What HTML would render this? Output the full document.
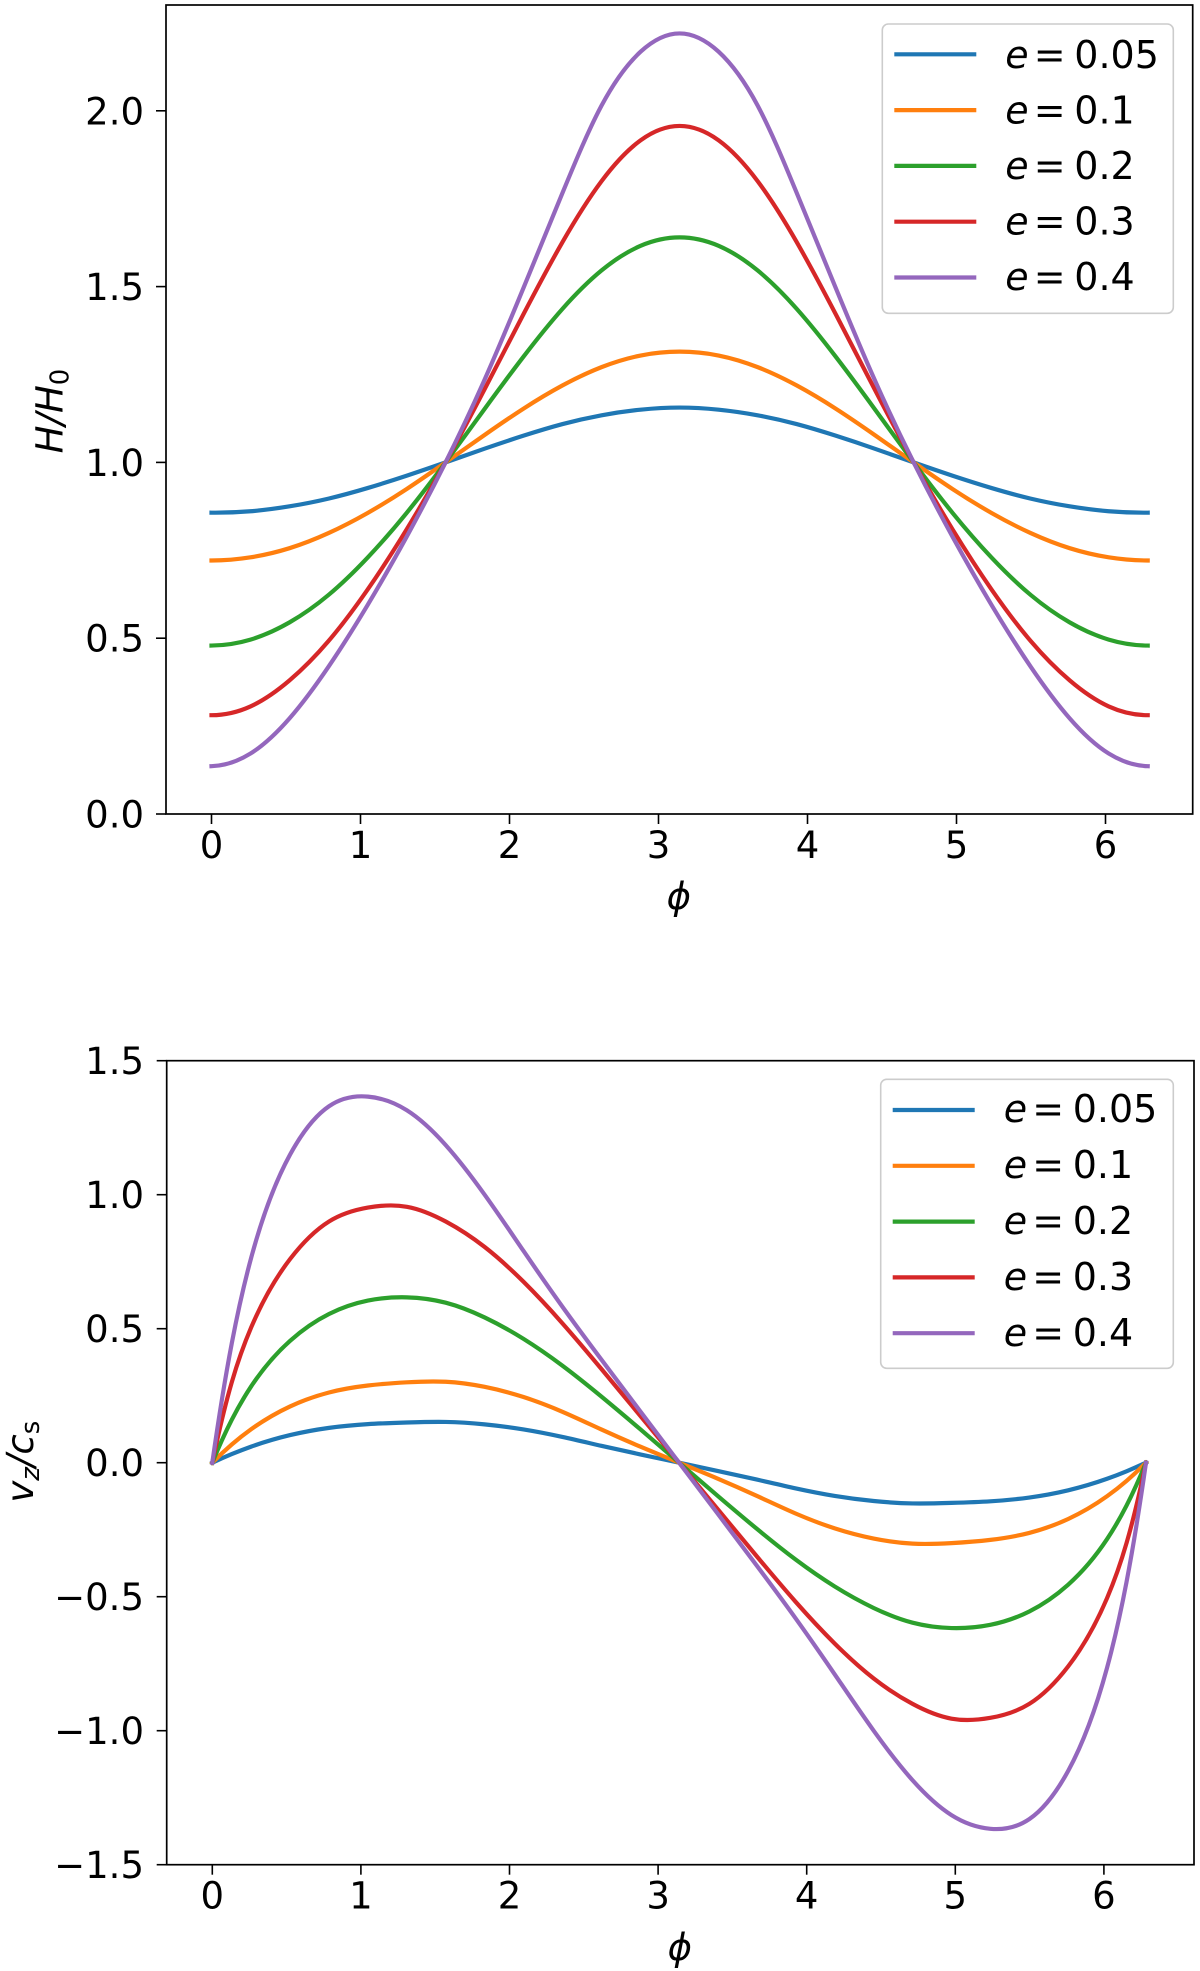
<!DOCTYPE html>
<html lang="en">
<head>
<meta charset="utf-8">
<title>Disc thickness and vertical velocity vs phase</title>
<style>
html,body{margin:0;padding:0;background:#fff;width:1200px;height:1971px;overflow:hidden}
svg{display:block}
text{font-family:"DejaVu Sans","Liberation Sans",sans-serif;font-size:37px;fill:#000}
</style>
</head>
<body>
<svg id="chart" xmlns="http://www.w3.org/2000/svg" width="1200" height="1971" viewBox="0 0 1200 1971"></svg>
<script>
const phiH = [0,0.2618,0.5236,0.7854,1.0472,1.309,1.5708,1.8326,2.0944,2.3562,2.618,2.8798,3.1416,3.4034,3.6652,3.927,4.1888,4.4506,4.7124,4.9742,5.236,5.4978,5.7596,6.0214,6.2832];
const hE005 = [0.857,0.861,0.875,0.897,0.927,0.962,1.000,1.039,1.076,1.109,1.134,1.150,1.156,1.150,1.134,1.109,1.076,1.039,1.000,0.962,0.927,0.897,0.875,0.861,0.857];
const hE01 = [0.721,0.730,0.756,0.799,0.856,0.924,1.000,1.078,1.153,1.219,1.271,1.304,1.315,1.304,1.271,1.219,1.153,1.078,1.000,0.924,0.856,0.799,0.756,0.730,0.721];
const hE02 = [0.479,0.496,0.545,0.623,0.729,0.856,1.000,1.152,1.301,1.437,1.546,1.616,1.640,1.616,1.546,1.437,1.301,1.152,1.000,0.856,0.729,0.623,0.545,0.496,0.479];
const hE03 = [0.281,0.306,0.380,0.492,0.638,0.809,1.000,1.208,1.422,1.627,1.800,1.916,1.957,1.916,1.800,1.627,1.422,1.208,1.000,0.809,0.638,0.492,0.380,0.306,0.281];
const hE04 = [0.136,0.172,0.272,0.419,0.594,0.788,1.000,1.235,1.497,1.767,2.015,2.168,2.220,2.168,2.015,1.767,1.497,1.235,1.000,0.788,0.594,0.419,0.272,0.172,0.136];

const phiV = [0,0.1309,0.2618,0.5236,0.7854,1.0472,1.309,1.5708,1.8326,2.0944,2.3562,2.618,2.8798,3.1416,3.4034,3.6652,3.927,4.1888,4.4506,4.7124,4.9742,5.236,5.4978,5.7596,6.0214,6.1523,6.2832];
const vE005 = [0,0.032,0.060,0.103,0.130,0.144,0.150,0.152,0.143,0.124,0.096,0.063,0.031,0,-0.031,-0.063,-0.096,-0.124,-0.143,-0.152,-0.150,-0.144,-0.130,-0.103,-0.060,-0.032,0];
const vE01 = [0,0.068,0.125,0.210,0.262,0.288,0.300,0.302,0.283,0.245,0.190,0.124,0.060,0,-0.060,-0.124,-0.190,-0.245,-0.283,-0.302,-0.300,-0.288,-0.262,-0.210,-0.125,-0.068,0];
const vE02 = [0,0.160,0.285,0.455,0.555,0.605,0.617,0.597,0.542,0.462,0.362,0.247,0.125,0,-0.125,-0.247,-0.362,-0.462,-0.542,-0.597,-0.617,-0.605,-0.555,-0.455,-0.285,-0.160,0];
const vE03 = [0,0.300,0.505,0.760,0.900,0.952,0.955,0.900,0.805,0.675,0.520,0.350,0.175,0,-0.175,-0.350,-0.520,-0.675,-0.805,-0.900,-0.955,-0.952,-0.900,-0.760,-0.505,-0.300,0];
const vE04 = [0,0.445,0.765,1.150,1.330,1.366,1.315,1.185,1.000,0.790,0.582,0.385,0.192,0,-0.192,-0.385,-0.582,-0.790,-1.000,-1.185,-1.315,-1.366,-1.330,-1.150,-0.765,-0.445,0];

const xTickValues = [0,1,2,3,4,5,6];
const hTickValues = [0,0.5,1,1.5,2];
const vTickValues = [-1.5,-1,-0.5,0,0.5,1,1.5];
const legendValues = ['0.05','0.1','0.2','0.3','0.4'];
const seriesColors = ['#1f77b4','#ff7f0e','#2ca02c','#d62728','#9467bd'];

const NS = 'http://www.w3.org/2000/svg';
const root = document.getElementById('chart');

function make(tag, parent, attrs) {
  const node = document.createElementNS(NS, tag);
  for (const k in attrs) node.setAttribute(k, attrs[k]);
  parent.appendChild(node);
  return node;
}

function xH(p) { return 211.5 + 149 * p; }
function yH(v) { return 814 - 351.6 * v; }
function xV(p) { return 212.3 + 148.6 * p; }
function yV(v) { return 1462.7 - 268 * v; }

function curvePath(xs, ys, fx, fy) {
  const px = xs.map(fx);
  const py = ys.map(fy);
  const n = px.length;
  const h = [];
  const dl = [];
  for (let i = 0; i < n - 1; i++) {
    h.push(px[i + 1] - px[i]);
    dl.push((py[i + 1] - py[i]) / h[i]);
  }
  const m = new Array(n).fill(0);
  m[0] = ((2 * h[0] + h[1]) * dl[0] - h[0] * dl[1]) / (h[0] + h[1]);
  m[n - 1] = ((2 * h[n - 2] + h[n - 3]) * dl[n - 2] - h[n - 2] * dl[n - 3]) / (h[n - 2] + h[n - 3]);
  const cp = new Array(n).fill(0);
  const dp = new Array(n).fill(0);
  dp[0] = m[0];
  for (let i = 1; i < n - 1; i++) {
    const a = h[i];
    const b = 2 * (h[i - 1] + h[i]);
    const c = h[i - 1];
    const r = 3 * (h[i] * dl[i - 1] + h[i - 1] * dl[i]);
    const den = b - a * cp[i - 1];
    cp[i] = c / den;
    dp[i] = (r - a * dp[i - 1]) / den;
  }
  for (let i = n - 2; i >= 1; i--) {
    m[i] = dp[i] - cp[i] * m[i + 1];
  }
  let d = 'M' + px[0].toFixed(2) + ' ' + py[0].toFixed(2);
  for (let i = 0; i < n - 1; i++) {
    const t = h[i] / 3;
    d += 'C' + (px[i] + t).toFixed(2) + ' ' + (py[i] + m[i] * t).toFixed(2) + ' ' +
      (px[i + 1] - t).toFixed(2) + ' ' + (py[i + 1] - m[i + 1] * t).toFixed(2) + ' ' +
      px[i + 1].toFixed(2) + ' ' + py[i + 1].toFixed(2);
  }
  return d;
}

function fmtY(v) { return v.toFixed(1).replace('-', '\u2212'); }

function drawPanel(prefix, box, xs, series, fx, fy, yTicks, xLabelBase, legendBox) {
  const g = make('g', root, {});
  
  

  series.forEach(function (vals, i) {
    const line = make('path', g, { d: curvePath(xs, vals, fx, fy), fill: 'none', stroke: seriesColors[i], 'stroke-width': 4.2, 'stroke-linecap': 'square', 'stroke-linejoin': 'round' });
    
    
  });

  const frame = make('rect', g, { x: box.l, y: box.t, width: box.r - box.l, height: box.b - box.t, fill: 'none', stroke: '#000', 'stroke-width': 1.7 });
  
  

  xTickValues.forEach(function (t) {
    const tick = make('line', g, { x1: fx(t), x2: fx(t), y1: box.b, y2: box.b + 10, stroke: '#000', 'stroke-width': 1.6 });
    
    
    const label = make('text', g, { x: fx(t), y: box.b + 44, 'text-anchor': 'middle' });
    label.textContent = String(t);
    
    
  });

  yTicks.forEach(function (t) {
    const tick = make('line', g, { x1: box.l - 10, x2: box.l, y1: fy(t), y2: fy(t), stroke: '#000', 'stroke-width': 1.6 });
    
    
    const label = make('text', g, { x: 144, y: fy(t) + 13.5, 'text-anchor': 'end' });
    label.textContent = fmtY(t);
    
    
  });

  const xl = make('text', g, { x: (box.l + box.r) / 2 - 0.5, y: xLabelBase, 'text-anchor': 'middle', 'font-style': 'italic' });
  xl.textContent = '\u03d5';
  
  

  const lg = make('g', g, {});
  
  
  const lb = make('rect', lg, { x: legendBox.l, y: legendBox.t, width: legendBox.r - legendBox.l, height: legendBox.b - legendBox.t, rx: 6, ry: 6, fill: '#fff', 'fill-opacity': 0.8, stroke: '#ccc', 'stroke-width': 1.6 });
  
  

  legendValues.forEach(function (val, i) {
    const rowY = legendBox.first + 55.8 * i;
    const entry = make('g', lg, {});
    
    
    const swatch = make('line', entry, { x1: legendBox.l + 12, x2: legendBox.l + 94, y1: rowY, y2: rowY, stroke: seriesColors[i], 'stroke-width': 4.2 });
    
    
    const tx = legendBox.l + 123;
    const txt = make('text', entry, { y: legendBox.textFirst + legendBox.textStep * i });
    txt.style.fontSize = '38px';
    
    
    const e = make('tspan', txt, { x: tx, 'font-style': 'italic' });
    e.textContent = 'e';
    const eq = make('tspan', txt, { x: tx + 28.5 });
    eq.textContent = '=';
    const num = make('tspan', txt, { x: tx + 69 });
    num.textContent = val;
  });
}

drawPanel('top', { l: 166, r: 1192.7, t: 5, b: 814 }, phiH, [hE005, hE01, hE02, hE03, hE04], xH, yH, hTickValues, 909, { l: 882.3, r: 1173.3, t: 24, b: 313.3, first: 54.3, textFirst: 68, textStep: 55.5 });
drawPanel('bottom', { l: 166.7, r: 1194, t: 1060.7, b: 1864.7 }, phiV, [vE005, vE01, vE02, vE03, vE04], xV, yV, vTickValues, 1960, { l: 880.7, r: 1173.3, t: 1079.3, b: 1368.3, first: 1110, textFirst: 1122, textStep: 56 });

const yTitleTop = make('text', root, { transform: 'translate(62.5 411) rotate(-90)', 'text-anchor': 'middle' });


const h1 = make('tspan', yTitleTop, { 'font-style': 'italic' });
h1.textContent = 'H/H';
const h0 = make('tspan', yTitleTop, { 'font-size': '26', dy: '6' });
h0.textContent = '0';

const yTitleBottom = make('text', root, { transform: 'translate(33 1461.7) rotate(-90)', 'text-anchor': 'middle' });


const v1 = make('tspan', yTitleBottom, { 'font-style': 'italic' });
v1.textContent = 'v';
const v2 = make('tspan', yTitleBottom, { 'font-style': 'italic', 'font-size': '26', dy: '6' });
v2.textContent = 'z';
const v3 = make('tspan', yTitleBottom, { 'font-style': 'italic', dy: '-6' });
v3.textContent = '/c';
const v4 = make('tspan', yTitleBottom, { 'font-size': '26', dy: '6' });
v4.textContent = 's';
</script>
</body>
</html>
